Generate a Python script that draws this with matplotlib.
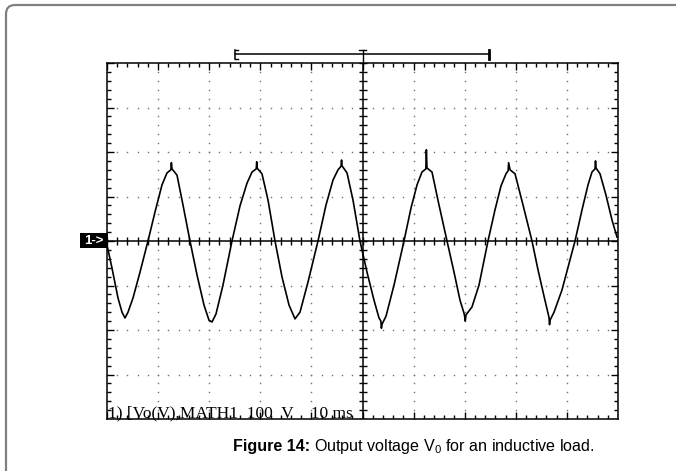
import numpy as np
import matplotlib
matplotlib.use("Agg")
import matplotlib.pyplot as plt
from matplotlib.patches import FancyBboxPatch, Rectangle

plt.rcParams['mathtext.fontset'] = 'custom'
plt.rcParams['mathtext.rm'] = 'Liberation Sans'

# ---- data (time in ms, voltage in V) ----
time_ms = [0.0, 0.98, 2.15, 2.94, 3.52, 4.11, 5.09, 6.46, 8.02, 9.39, 10.76, 11.74,
           12.5, 12.6, 12.72, 13.70, 14.87, 16.24, 17.61, 18.98, 19.96, 20.55, 21.33,
           22.70, 24.46, 26.03, 27.40, 28.38, 29.2, 29.3, 29.36, 30.33, 31.51, 32.88,
           34.25, 35.62, 36.79, 37.77, 39.34, 41.29, 42.86, 44.23, 45.21, 45.8, 45.9,
           45.99, 46.97, 48.14, 49.51, 50.88, 52.25, 53.23, 53.6, 53.7, 53.82, 54.60,
           56.17, 58.12, 59.49, 60.67, 61.64, 62.4, 62.5, 62.62, 63.60, 64.97, 66.54,
           67.91, 69.08, 69.86, 70.0, 70.1, 70.26, 71.43, 72.80, 74.56, 75.93, 77.11,
           78.08, 78.5, 78.6, 78.87, 79.85, 81.41, 83.17, 84.35, 85.52, 86.30, 86.5,
           86.6, 86.70, 87.48, 89.04, 91.59, 92.96, 94.13, 94.91, 95.5, 95.6, 95.70,
           96.48, 97.65, 98.83, 99.80]
volts = [-9, -61, -128, -160, -173, -160, -128, -70, 0, 65, 126, 153,
         160, 176, 162, 148, 81, 0, -76, -144, -178, -182, -164,
         -99, 0, 79, 130, 155, 162, 178, 164, 151, 92, 0,
         -81, -144, -175, -160, -92, 0, 81, 137, 160, 168, 182,
         169, 153, 92, 0, -70, -133, -173, -180, -196, -187, -169,
         -99, 0, 74, 126, 155, 162, 205, 164, 155, 81, 0,
         -70, -133, -162, -170, -180, -166, -148, -99, 0, 70, 124,
         151, 158, 176, 160, 151, 81, 0, -65, -124, -162, -172,
         -188, -178, -160, -110, 0, 70, 126, 155, 162, 180, 164,
         151, 103, 47, 9]

x_divisions = 10
y_divisions = 8
ms_per_div = 10
v_per_div = 100
readout = "1) [Vo(V),MATH1  100  V    10 ms"
marker_label = "1->"

W, H = 676, 471
fig = plt.figure(figsize=(W / 100, H / 100), dpi=100)

# background axes in pixel coordinates
bg = fig.add_axes([0, 0, 1, 1])
bg.set_xlim(0, W)
bg.set_ylim(H, 0)
bg.axis('off')
bg.add_patch(FancyBboxPatch((6, 5), 720, 520, boxstyle="round,pad=0,rounding_size=9",
                            fc='none', ec='#808080', lw=1.6))

# scope screen
L, R, T, B = 107, 618, 63, 419
ax = fig.add_axes([L / W, 1 - B / H, (R - L) / W, (B - T) / H])
ax.set_facecolor('none')
xmax = x_divisions * ms_per_div
ymax = y_divisions / 2 * v_per_div
ax.set_xlim(0, xmax)
ax.set_ylim(-ymax, ymax)
ax.set_xticks([])
ax.set_yticks([])
for s in ax.spines.values():
    s.set_linewidth(1.1)
    s.set_color('black')

dx = ms_per_div / 5
dy = v_per_div / 5
xs_minor = np.arange(0, xmax + 0.01, dx)
ys_minor = np.arange(-ymax, ymax + 0.01, dy)
xs_major = np.arange(0, xmax + 0.01, ms_per_div)
ys_major = np.arange(-ymax, ymax + 0.01, v_per_div)

# dotted grid
for xm in xs_major[1:-1]:
    if abs(xm - xmax / 2) < 1e-6:
        continue
    ax.plot(np.full_like(ys_minor, xm), ys_minor, ls='none', marker='s', ms=1.0,
            mec='none', mfc='#707070')
for ym in ys_major[1:-1]:
    if abs(ym) < 1e-6:
        continue
    ax.plot(xs_minor, np.full_like(xs_minor, ym), ls='none', marker='s', ms=1.0,
            mec='none', mfc='#707070')

# center axes
ax.axhline(0, color='black', lw=1.1)
ax.axvline(xmax / 2, color='black', lw=1.1)

# tick marks (pixel lengths converted to data)
px_x = xmax / (R - L)
px_y = 2 * ymax / (B - T)
for xm in xs_minor:
    major = abs(xm / ms_per_div - round(xm / ms_per_div)) < 1e-6
    ln = (7 if major else 4) * px_y
    ax.plot([xm, xm], [ymax, ymax - ln], color='black', lw=1.0, solid_capstyle='butt')
    ax.plot([xm, xm], [-ymax, -ymax + ln], color='black', lw=1.0, solid_capstyle='butt')
    ax.plot([xm, xm], [-4 * px_y, 4 * px_y], color='black', lw=1.0, solid_capstyle='butt')
for ym in ys_minor:
    major = abs(ym / v_per_div - round(ym / v_per_div)) < 1e-6
    ln = (7 if major else 4) * px_x
    ax.plot([0, ln], [ym, ym], color='black', lw=1.0, solid_capstyle='butt')
    ax.plot([xmax, xmax - ln], [ym, ym], color='black', lw=1.0, solid_capstyle='butt')
    ax.plot([xmax / 2 - 4 * px_x, xmax / 2 + 4 * px_x], [ym, ym], color='black', lw=1.0,
            solid_capstyle='butt')

# trace
ax.plot(time_ms, volts, color='black', lw=1.2)

# readout text
ax.text(0.1, -ymax + 1.5 * px_y, readout, family='Liberation Serif', fontsize=12.5,
        ha='left', va='baseline', color='black')

# trigger marker box in bg pixel coords
bg.add_patch(Rectangle((80, 233), 28, 15, fc='black', ec='none', zorder=5))
bg.text(94, 241, marker_label, color='white', fontsize=9.5, weight='bold',
        family='Liberation Sans', ha='center', va='center', zorder=6)

# top time-window marker
yb = 54
bg.plot([235, 489], [yb, yb], color='black', lw=1.1)
bg.plot([235, 235], [50, 59], color='black', lw=1.1)
bg.plot([235, 238], [50, 50], color='black', lw=1.0)
bg.plot([235, 238], [59, 59], color='black', lw=1.0)
bg.plot([489, 489], [50, 59], color='black', lw=2.0)
bg.plot([359, 366], [50, 50], color='black', lw=1.0)
bg.plot([362.5, 362.5], [50, 64], color='black', lw=1.0)

# caption
fig.canvas.draw()
cy = 1 - 447 / H
t1 = fig.text(233 / W, cy, "Figure 14:", weight='bold', fontsize=11.6,
              family='Liberation Sans', va='center', ha='left')
fig.canvas.draw()
bb = t1.get_window_extent()
fig.text((bb.x1 + 4) / W, cy, r"Output voltage V$_\mathregular{0}$ for an inductive load.",
         fontsize=11.6, family='Liberation Sans', va='center', ha='left')

fig.savefig("out.png", dpi=100)
